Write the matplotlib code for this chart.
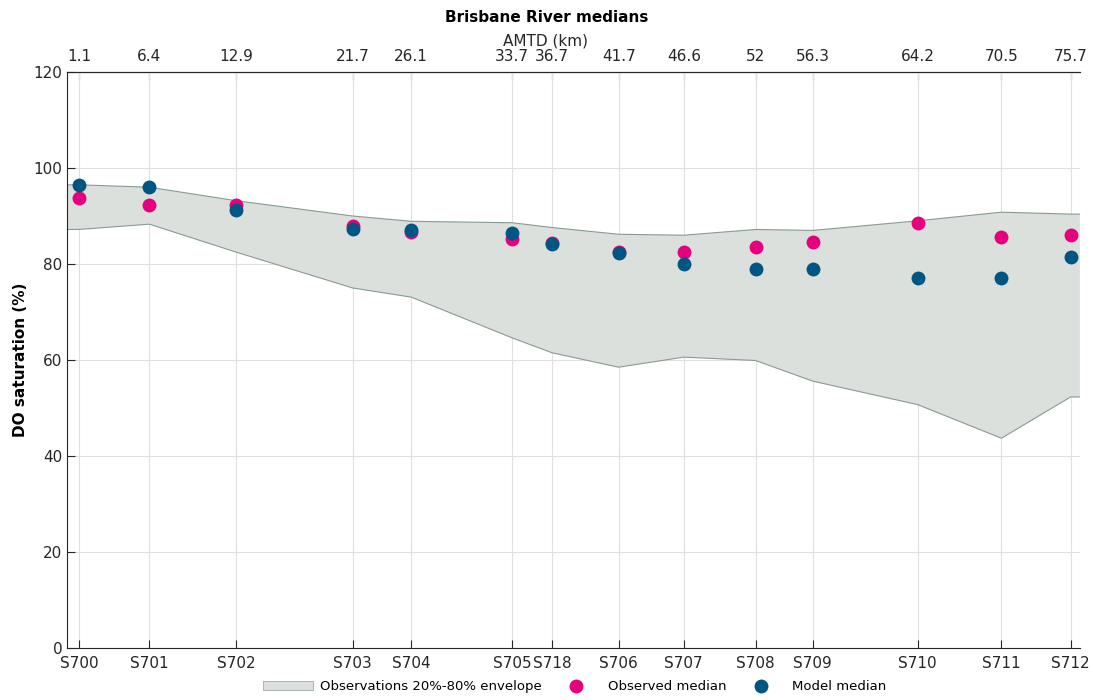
import matplotlib
matplotlib.use("Agg")
import matplotlib.pyplot as plt
from matplotlib.patches import Patch

sites = ["S700", "S701", "S702", "S703", "S704", "S705", "S718", "S706",
         "S707", "S708", "S709", "S710", "S711", "S712"]
amtd = [1.1, 6.4, 12.9, 21.7, 26.1, 33.7, 36.7, 41.7, 46.6, 52, 56.3, 64.2, 70.5, 75.7]
amtd_labels = ["1.1", "6.4", "12.9", "21.7", "26.1", "33.7", "36.7", "41.7",
               "46.6", "52", "56.3", "64.2", "70.5", "75.7"]
env_upper = [96.5, 96.0, 93.2, 90.0, 88.9, 88.6, 87.6, 86.2, 86.0, 87.2, 87.0, 89.0, 90.8, 90.4]
env_lower = [87.2, 88.3, 82.5, 75.0, 73.1, 64.6, 61.5, 58.5, 60.6, 59.9, 55.6, 50.7, 43.7, 52.3]
obs_median = [93.7, 92.2, 92.3, 88.0, 86.7, 85.3, 84.3, 82.5, 82.5, 83.5, 84.5, 88.5, 85.7, 86.0]
mod_median = [96.5, 96.0, 91.2, 87.2, 87.0, 86.4, 84.2, 82.3, 80.0, 79.0, 78.9, 77.0, 77.0, 81.4]

xmin, xmax = 0.2, 76.4

plt.rcParams['font.family'] = ['DejaVu Sans']
fig = plt.figure(figsize=(10.93, 7.0), dpi=100)
ax = fig.add_axes([0.0613, 0.0743, 0.9267, 0.8228])

# envelope extended to the axis edges
ex = [xmin] + amtd + [xmax]
eu = [env_upper[0]] + env_upper + [env_upper[-1]]
el = [env_lower[0]] + env_lower + [env_lower[-1]]
ax.fill_between(ex, el, eu, facecolor="#dbe0dc", edgecolor="none", zorder=1)
ax.plot(ex, eu, color="#8a9a93", lw=0.8, zorder=2)
ax.plot(ex, el, color="#8a9a93", lw=0.8, zorder=2)

h_obs, = ax.plot(amtd, obs_median, 'o', color="#e5007d", ms=10, mec="none", zorder=3)
h_mod, = ax.plot(amtd, mod_median, 'o', color="#005683", ms=10, mec="none", zorder=4)
h_env = Patch(facecolor="#dbe0dc", edgecolor="#a0aaa5", linewidth=0.6)

ax.set_xlim(xmin, xmax)
ax.set_ylim(0, 120)
ax.set_xticks(amtd)
ax.set_xticklabels(sites, fontsize=11, color="#262626")
ax.set_yticks(range(0, 121, 20))
ax.tick_params(axis='y', labelsize=11, labelcolor="#262626")
ax.tick_params(direction='in', length=6, width=0.8, color="#262626")
ax.tick_params(axis='x', pad=5.5)
ax.grid(True, color="#e0e0e0", lw=0.8, zorder=0)
ax.set_axisbelow(True)
for s in ["left", "bottom", "top"]:
    ax.spines[s].set_color("#262626")
    ax.spines[s].set_linewidth(0.8)
ax.spines["right"].set_visible(False)
ax.set_ylabel("DO saturation (%)", fontsize=11, fontweight='bold')

top = ax.secondary_xaxis('top')
top.set_xticks(amtd)
top.set_xticklabels(amtd_labels, fontsize=11, color="#262626")
top.tick_params(direction='in', length=6, width=0.8, color="#262626", pad=6)
top.spines["top"].set_color("#262626")

fig.text(0.499, 0.941, "AMTD (km)", ha='center', va='center', fontsize=11,
         color="#262626")
fig.text(0.5, 0.975, "Brisbane River medians", ha='center', va='center',
         fontsize=11, fontweight='bold')

fig.legend([h_env, h_obs, h_mod],
           ["Observations 20%-80% envelope", "Observed median", "Model median"],
           loc='center', bbox_to_anchor=(0.526, 0.019), ncol=3,
           frameon=False, fontsize=9.5, handlelength=3.8, columnspacing=0.7,
           handletextpad=0.5)

fig.savefig("out.png", dpi=100)
